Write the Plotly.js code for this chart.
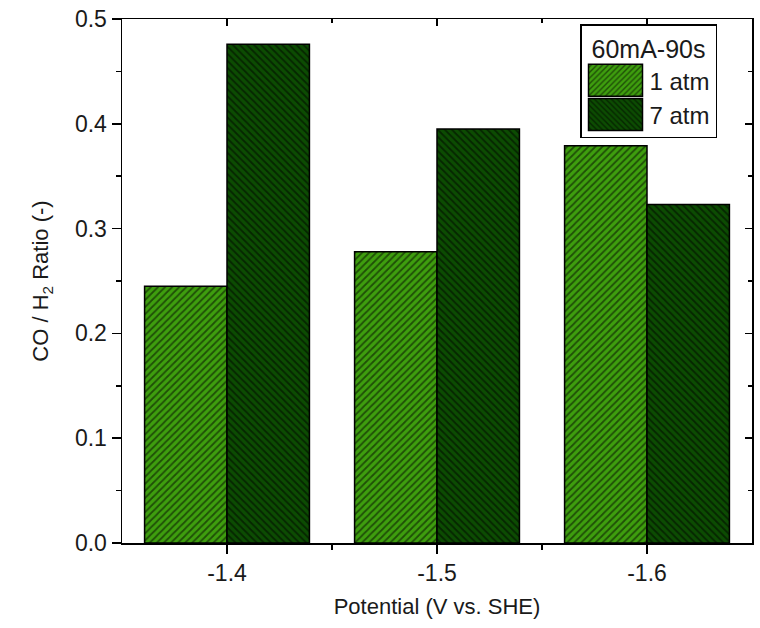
<!DOCTYPE html>
<html>
<head>
<meta charset="utf-8">
<script src="https://cdn.plot.ly/plotly-3.0.1.min.js"></script>
<style>html,body{margin:0;padding:0;background:#fff;}#chart{width:760px;height:628px;}</style>
</head>
<body>
<div id="chart"></div>
<script>
const categories = ["-1.4", "-1.5", "-1.6"];
const series1Name = "1 atm";
const series1Values = [0.245, 0.278, 0.379];
const series2Name = "7 atm";
const series2Values = [0.476, 0.395, 0.323];
const legendTitle = "60mA-90s";
const yTickVals = [0, 0.1, 0.2, 0.3, 0.4, 0.5];

const pos = categories.map((c, i) => i);
const font = "Liberation Sans, Arial, sans-serif";
const txt = "#1a1a1a";

const traces = [
  {
    type: "bar", name: series1Name, x: pos, y: series1Values,
    marker: {
      color: "#3e9e0e",
      line: {color: "#000", width: 1.5},
      pattern: {shape: "/", fgcolor: "#000", bgcolor: "#3e9e0e", size: 5, solidity: 0.35, fillmode: "overlay"}
    }
  },
  {
    type: "bar", name: series2Name, x: pos, y: series2Values,
    marker: {
      color: "#0c4c02",
      line: {color: "#000", width: 1.5},
      pattern: {shape: "\\", fgcolor: "#000", bgcolor: "#0c4c02", size: 5, solidity: 0.35, fillmode: "overlay"}
    }
  },
  {
    type: "scatter", mode: "markers", x: [], y: [], xaxis: "x2", yaxis: "y2",
    showlegend: false, hoverinfo: "skip"
  }
];

const axisBase = {showline: true, linecolor: "#000", linewidth: 1.5, zeroline: false, showgrid: false};

const layout = {
  width: 760, height: 628,
  margin: {l: 122, r: 8, t: 19, b: 85},
  paper_bgcolor: "#fff", plot_bgcolor: "#fff",
  font: {family: font, color: txt, size: 22},
  barmode: "group", bargap: 0.215, bargroupgap: 0,
  showlegend: true,
  legend: {
    x: 0.727, y: 0.99, xanchor: "left", yanchor: "top",
    bgcolor: "#fff", bordercolor: "#000", borderwidth: 1.5,
    font: {family: font, size: 24, color: txt},
    title: {text: legendTitle, side: "top center", font: {family: font, size: 25, color: txt}},
    itemwidth: 58
  },
  xaxis: Object.assign({}, axisBase, {
    range: [-0.5, 2.5], tickmode: "array", tickvals: pos, ticktext: categories,
    ticks: "outside", ticklen: 9, tickwidth: 1.5, tickcolor: "#000",
    tickfont: {family: font, size: 23, color: txt},
    minor: {tickmode: "array", tickvals: [0.5, 1.5], ticks: "outside", ticklen: 5, tickwidth: 1.5, tickcolor: "#000"},
    title: {text: "Potential (V vs. SHE)", font: {family: font, size: 22, color: txt}, standoff: 13}
  }),
  yaxis: Object.assign({}, axisBase, {
    range: [0, 0.5], tickmode: "array", tickvals: yTickVals, tickformat: ".1f",
    ticks: "outside", ticklen: 9, tickwidth: 1.5, tickcolor: "#000",
    tickfont: {family: font, size: 23, color: txt},
    minor: {dtick: 0.05, ticks: "outside", ticklen: 5, tickwidth: 1.5, tickcolor: "#000"},
    title: {text: "CO / H<sub>2</sub> Ratio (-)", font: {family: font, size: 22, color: txt}, standoff: 20}
  }),
  xaxis2: Object.assign({}, axisBase, {
    overlaying: "x", side: "top", matches: "x", range: [-0.5, 2.5],
    tickmode: "array", tickvals: pos, showticklabels: false,
    ticks: "inside", ticklen: 7, tickwidth: 1.5, tickcolor: "#000",
    minor: {tickmode: "array", tickvals: [0.5, 1.5], ticks: "inside", ticklen: 4, tickwidth: 1.5, tickcolor: "#000"}
  }),
  yaxis2: Object.assign({}, axisBase, {
    overlaying: "y", side: "right", matches: "y", range: [0, 0.5],
    tickmode: "array", tickvals: yTickVals, showticklabels: false,
    ticks: "inside", ticklen: 7, tickwidth: 1.5, tickcolor: "#000",
    minor: {dtick: 0.05, ticks: "inside", ticklen: 4, tickwidth: 1.5, tickcolor: "#000"}
  })
};

const gd = document.getElementById("chart");
Plotly.newPlot(gd, traces, layout, {displayModeBar: false, staticPlot: true}).then(() => {
  gd.querySelectorAll(".legend .legendpoints path").forEach(p => {
    p.setAttribute("d", "M27,16H-27V-16H27Z");
  });
});
</script>
</body>
</html>
